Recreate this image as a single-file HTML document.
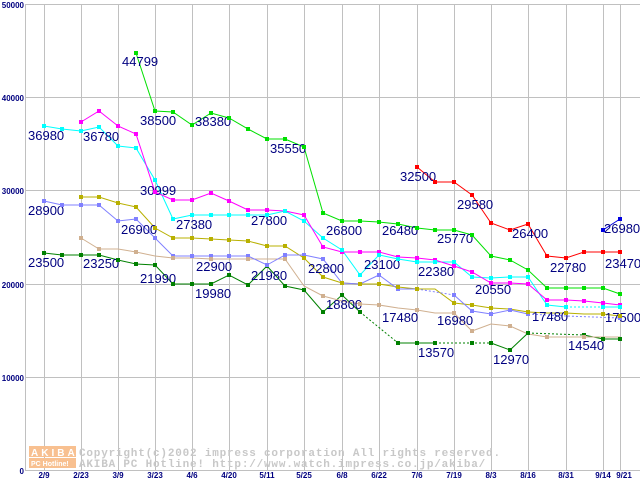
<!DOCTYPE html>
<html><head><meta charset="utf-8"><style>
html,body{margin:0;padding:0;background:#fff;}
svg{display:block;}
.lb{font-family:"Liberation Sans",sans-serif;font-size:13px;fill:#000080;}
.tk{font-family:"Liberation Sans",sans-serif;font-size:8px;font-weight:bold;fill:#000080;}
.cp{font-family:"Liberation Mono",monospace;font-size:11px;font-weight:bold;fill:#c8c8c8;letter-spacing:0.8px;}
</style></head><body>
<svg width="640" height="480" viewBox="0 0 640 480" xmlns="http://www.w3.org/2000/svg">
<rect width="640" height="480" fill="#fff"/>
<g stroke="#c0c0c0" stroke-width="1">
<line x1="25" y1="4.5" x2="640" y2="4.5"/><line x1="25" y1="97.5" x2="640" y2="97.5"/>
<line x1="25" y1="190.5" x2="640" y2="190.5"/><line x1="25" y1="284.5" x2="640" y2="284.5"/>
<line x1="25" y1="377.5" x2="640" y2="377.5"/><line x1="25" y1="470.5" x2="640" y2="470.5"/>
<line x1="25.5" y1="4" x2="25.5" y2="471"/>
<line x1="44.5" y1="4" x2="44.5" y2="471"/><line x1="81.5" y1="4" x2="81.5" y2="471"/>
<line x1="118.5" y1="4" x2="118.5" y2="471"/><line x1="155.5" y1="4" x2="155.5" y2="471"/>
<line x1="192.5" y1="4" x2="192.5" y2="471"/><line x1="229.5" y1="4" x2="229.5" y2="471"/>
<line x1="267.5" y1="4" x2="267.5" y2="471"/><line x1="304.5" y1="4" x2="304.5" y2="471"/>
<line x1="342.5" y1="4" x2="342.5" y2="471"/><line x1="379.5" y1="4" x2="379.5" y2="471"/>
<line x1="417.5" y1="4" x2="417.5" y2="471"/><line x1="454.5" y1="4" x2="454.5" y2="471"/>
<line x1="491.5" y1="4" x2="491.5" y2="471"/><line x1="528.5" y1="4" x2="528.5" y2="471"/>
<line x1="566.5" y1="4" x2="566.5" y2="471"/><line x1="603.5" y1="4" x2="603.5" y2="471"/>
<line x1="620.5" y1="4" x2="620.5" y2="471"/>
</g>
<g class="tk" text-anchor="end">
<text x="24" y="8">50000</text><text x="24" y="101">40000</text><text x="24" y="194">30000</text>
<text x="24" y="288">20000</text><text x="24" y="381">10000</text><text x="24" y="474">0</text>
</g>
<g class="tk" text-anchor="middle">
<text x="44" y="478">2/9</text><text x="81" y="478">2/23</text><text x="118" y="478">3/9</text>
<text x="155" y="478">3/23</text><text x="192" y="478">4/6</text><text x="229" y="478">4/20</text>
<text x="267" y="478">5/11</text><text x="304" y="478">5/25</text><text x="342" y="478">6/8</text>
<text x="379" y="478">6/22</text><text x="417" y="478">7/6</text><text x="454" y="478">7/19</text>
<text x="491" y="478">8/3</text><text x="528" y="478">8/16</text><text x="566" y="478">8/31</text>
<text x="603" y="478">9/14</text><text x="624" y="478">9/21</text>
</g>
<rect x="29" y="446" width="47" height="11" fill="#f8c090"/>
<rect x="29" y="458" width="47" height="10" fill="#f8c090"/>
<text x="31" y="456" font-family="Liberation Sans,sans-serif" font-size="10" font-weight="bold" fill="#fff" letter-spacing="3">AKIBA</text>
<text x="31" y="466" font-family="Liberation Sans,sans-serif" font-size="7" font-weight="bold" fill="#fff">PC Hotline!</text>
<text class="cp" x="79" y="456">Copyright(c)2002 impress corporation All rights reserved.</text>
<text class="cp" x="79" y="467">AKIBA PC Hotline!  http://www.watch.impress.co.jp/akiba/</text>
<g fill="none" stroke-width="1">
<polyline stroke="#008000" points="44,253 62,255 81,255 99,255 118,260 136,264 155,265 173,284 192,284 211,284 229,275 248,285 267,266 285,286 304,290 323,312 342,295 360,312"/>
<polyline stroke="#008000" stroke-dasharray="2,2" points="360,312 398,343"/>
<polyline stroke="#008000" points="398,343 435,343"/>
<polyline stroke="#008000" stroke-dasharray="2,2" points="435,343 491,343"/>
<polyline stroke="#008000" points="491,343 510,350 528,333"/>
<polyline stroke="#008000" stroke-dasharray="2,2" points="528,333 584,335"/>
<polyline stroke="#008000" points="584,335 603,339 620,339"/>
<polyline stroke="#d0b090" points="81,238 99,249 118,249 136,252 155,256 173,258 192,258 211,259 229,259 248,259 267,259 285,259 304,286 323,296 342,301 360,304 379,305 398,308 417,310 435,313 454,313 472,331 491,324 510,326 528,334 547,337 566,337 584,337 603,337 620,337"/>
<polyline stroke="#b8b000" points="81,197 99,197 118,203 136,207 155,228 173,238 192,238 211,239 229,240 248,241 267,246 285,246 304,258 323,277 342,283 360,284 379,284 398,287 417,289 435,289 454,303 472,305 491,308 510,309 528,312 547,313 566,313 584,314 603,314 620,316"/>
<polyline stroke="#8080ff" points="44,201 62,205 81,205 99,205 118,221 136,219 155,238 173,256 192,256 211,256 229,256 248,256 267,265 285,255 304,255 323,259 342,283 360,284 379,275 398,289 417,289"/>
<polyline stroke="#8080ff" stroke-dasharray="2,2" points="417,289 454,295"/>
<polyline stroke="#8080ff" points="454,295 472,311 491,314 510,310 528,314"/>
<polyline stroke="#8080ff" stroke-dasharray="2,2" points="528,314 566,316 620,318"/>
<polyline stroke="#00ffff" points="44,126 62,129 81,131 99,127 118,146 136,148 155,180 173,219 192,215 211,215 229,215 248,215 267,215 285,211 304,221 323,238 342,250 360,275 379,255 398,259 417,262 435,262 454,262 472,277 491,278 510,277 528,277 547,305 566,307"/>
<polyline stroke="#00ffff" stroke-dasharray="2,2" points="566,307 603,307"/>
<polyline stroke="#00ffff" points="603,307 620,307"/>
<polyline stroke="#ff00ff" points="81,122 99,111 118,126 136,134 155,192 173,200 192,200 211,193 229,201 248,210 267,210 285,211 304,215 323,247 342,252 360,252 379,252 398,257 417,258 435,260 454,266 472,272 491,283 510,283 528,284 547,300 566,300 584,301 603,303 620,305"/>
<polyline stroke="#00e000" points="136,53 155,111 173,112 192,125 211,113 229,118 248,129 267,139 285,139 304,147 323,213 342,221 360,221 379,222 398,224 417,228 435,230 454,230 472,235 491,256 510,260 528,270 547,288 566,288 584,288 603,288 620,294"/>
<polyline stroke="#ff0000" points="417,167 435,182 454,182 472,195 491,223 510,230 528,224 547,256 566,258 584,252 603,252 620,252"/>
<polyline stroke="#0000e0" points="603,230 620,219"/>
</g>
<text class="lb" x="122" y="66">44799</text>
<text class="lb" x="28" y="140">36980</text><text class="lb" x="83" y="141">36780</text>
<text class="lb" x="140" y="125">38500</text><text class="lb" x="195" y="126">38380</text>
<text class="lb" x="270" y="153">35550</text><text class="lb" x="140" y="195">30999</text>
<text class="lb" x="176" y="229">27380</text><text class="lb" x="251" y="225">27800</text>
<text class="lb" x="121" y="234">26900</text><text class="lb" x="28" y="215">28900</text>
<text class="lb" x="326" y="235">26800</text><text class="lb" x="382" y="235">26480</text>
<text class="lb" x="437" y="243">25770</text><text class="lb" x="400" y="181">32500</text>
<text class="lb" x="457" y="209">29580</text><text class="lb" x="512" y="238">26400</text>
<text class="lb" x="550" y="272">22780</text><text class="lb" x="604" y="233">26980</text>
<text class="lb" x="605" y="268">23470</text><text class="lb" x="28" y="267">23500</text>
<text class="lb" x="83" y="268">23250</text><text class="lb" x="140" y="283">21990</text>
<text class="lb" x="196" y="271">22900</text><text class="lb" x="251" y="280">21980</text>
<text class="lb" x="195" y="298">19980</text><text class="lb" x="308" y="273">22800</text>
<text class="lb" x="364" y="269">23100</text><text class="lb" x="418" y="276">22380</text>
<text class="lb" x="475" y="294">20550</text><text class="lb" x="326" y="309">18800</text>
<text class="lb" x="382" y="322">17480</text><text class="lb" x="437" y="325">16980</text>
<text class="lb" x="418" y="357">13570</text><text class="lb" x="493" y="364">12970</text>
<text class="lb" x="532" y="321">17480</text><text class="lb" x="568" y="350">14540</text>
<text class="lb" x="605" y="322">17500</text>
<g id="m">
<g fill="#008000"><rect x="42" y="251" width="4" height="4"/><rect x="60" y="253" width="4" height="4"/><rect x="79" y="253" width="4" height="4"/><rect x="97" y="253" width="4" height="4"/><rect x="116" y="258" width="4" height="4"/><rect x="134" y="262" width="4" height="4"/><rect x="153" y="263" width="4" height="4"/><rect x="171" y="282" width="4" height="4"/><rect x="190" y="282" width="4" height="4"/><rect x="209" y="282" width="4" height="4"/><rect x="227" y="273" width="4" height="4"/><rect x="246" y="283" width="4" height="4"/><rect x="265" y="264" width="4" height="4"/><rect x="283" y="284" width="4" height="4"/><rect x="302" y="288" width="4" height="4"/><rect x="321" y="310" width="4" height="4"/><rect x="340" y="293" width="4" height="4"/><rect x="358" y="310" width="4" height="4"/><rect x="396" y="341" width="4" height="4"/><rect x="415" y="341" width="4" height="4"/><rect x="433" y="341" width="4" height="4"/><rect x="470" y="341" width="4" height="4"/><rect x="489" y="341" width="4" height="4"/><rect x="508" y="348" width="4" height="4"/><rect x="526" y="331" width="4" height="4"/><rect x="582" y="333" width="4" height="4"/><rect x="601" y="337" width="4" height="4"/><rect x="618" y="337" width="4" height="4"/></g>
<g fill="#00e000"><rect x="134" y="51" width="4" height="4"/><rect x="153" y="109" width="4" height="4"/><rect x="171" y="110" width="4" height="4"/><rect x="190" y="123" width="4" height="4"/><rect x="209" y="111" width="4" height="4"/><rect x="227" y="116" width="4" height="4"/><rect x="246" y="127" width="4" height="4"/><rect x="265" y="137" width="4" height="4"/><rect x="283" y="137" width="4" height="4"/><rect x="302" y="145" width="4" height="4"/><rect x="321" y="211" width="4" height="4"/><rect x="340" y="219" width="4" height="4"/><rect x="358" y="219" width="4" height="4"/><rect x="377" y="220" width="4" height="4"/><rect x="396" y="222" width="4" height="4"/><rect x="415" y="226" width="4" height="4"/><rect x="433" y="228" width="4" height="4"/><rect x="452" y="228" width="4" height="4"/><rect x="470" y="233" width="4" height="4"/><rect x="489" y="254" width="4" height="4"/><rect x="508" y="258" width="4" height="4"/><rect x="526" y="268" width="4" height="4"/><rect x="545" y="286" width="4" height="4"/><rect x="564" y="286" width="4" height="4"/><rect x="582" y="286" width="4" height="4"/><rect x="601" y="286" width="4" height="4"/><rect x="618" y="292" width="4" height="4"/></g>
<g fill="#ff00ff"><rect x="79" y="120" width="4" height="4"/><rect x="97" y="109" width="4" height="4"/><rect x="116" y="124" width="4" height="4"/><rect x="134" y="132" width="4" height="4"/><rect x="153" y="190" width="4" height="4"/><rect x="171" y="198" width="4" height="4"/><rect x="190" y="198" width="4" height="4"/><rect x="209" y="191" width="4" height="4"/><rect x="227" y="199" width="4" height="4"/><rect x="246" y="208" width="4" height="4"/><rect x="265" y="208" width="4" height="4"/><rect x="283" y="209" width="4" height="4"/><rect x="302" y="213" width="4" height="4"/><rect x="321" y="245" width="4" height="4"/><rect x="340" y="250" width="4" height="4"/><rect x="358" y="250" width="4" height="4"/><rect x="377" y="250" width="4" height="4"/><rect x="396" y="255" width="4" height="4"/><rect x="415" y="256" width="4" height="4"/><rect x="433" y="258" width="4" height="4"/><rect x="452" y="264" width="4" height="4"/><rect x="470" y="270" width="4" height="4"/><rect x="489" y="281" width="4" height="4"/><rect x="508" y="281" width="4" height="4"/><rect x="526" y="282" width="4" height="4"/><rect x="545" y="298" width="4" height="4"/><rect x="564" y="298" width="4" height="4"/><rect x="582" y="299" width="4" height="4"/><rect x="601" y="301" width="4" height="4"/><rect x="618" y="303" width="4" height="4"/></g>
<g fill="#00ffff"><rect x="42" y="124" width="4" height="4"/><rect x="60" y="127" width="4" height="4"/><rect x="79" y="129" width="4" height="4"/><rect x="97" y="125" width="4" height="4"/><rect x="116" y="144" width="4" height="4"/><rect x="134" y="146" width="4" height="4"/><rect x="153" y="178" width="4" height="4"/><rect x="171" y="217" width="4" height="4"/><rect x="190" y="213" width="4" height="4"/><rect x="209" y="213" width="4" height="4"/><rect x="227" y="213" width="4" height="4"/><rect x="246" y="213" width="4" height="4"/><rect x="265" y="213" width="4" height="4"/><rect x="283" y="209" width="4" height="4"/><rect x="302" y="219" width="4" height="4"/><rect x="321" y="236" width="4" height="4"/><rect x="340" y="248" width="4" height="4"/><rect x="358" y="273" width="4" height="4"/><rect x="377" y="253" width="4" height="4"/><rect x="396" y="257" width="4" height="4"/><rect x="415" y="260" width="4" height="4"/><rect x="433" y="260" width="4" height="4"/><rect x="452" y="260" width="4" height="4"/><rect x="470" y="275" width="4" height="4"/><rect x="489" y="276" width="4" height="4"/><rect x="508" y="275" width="4" height="4"/><rect x="526" y="275" width="4" height="4"/><rect x="545" y="303" width="4" height="4"/><rect x="564" y="305" width="4" height="4"/><rect x="601" y="305" width="4" height="4"/><rect x="618" y="305" width="4" height="4"/></g>
<g fill="#8080ff"><rect x="42" y="199" width="4" height="4"/><rect x="60" y="203" width="4" height="4"/><rect x="79" y="203" width="4" height="4"/><rect x="97" y="203" width="4" height="4"/><rect x="116" y="219" width="4" height="4"/><rect x="134" y="217" width="4" height="4"/><rect x="153" y="236" width="4" height="4"/><rect x="171" y="254" width="4" height="4"/><rect x="190" y="254" width="4" height="4"/><rect x="209" y="254" width="4" height="4"/><rect x="227" y="254" width="4" height="4"/><rect x="246" y="254" width="4" height="4"/><rect x="265" y="263" width="4" height="4"/><rect x="283" y="253" width="4" height="4"/><rect x="302" y="253" width="4" height="4"/><rect x="321" y="257" width="4" height="4"/><rect x="340" y="281" width="4" height="4"/><rect x="358" y="282" width="4" height="4"/><rect x="377" y="273" width="4" height="4"/><rect x="396" y="287" width="4" height="4"/><rect x="415" y="287" width="4" height="4"/><rect x="452" y="293" width="4" height="4"/><rect x="470" y="309" width="4" height="4"/><rect x="489" y="312" width="4" height="4"/><rect x="508" y="308" width="4" height="4"/><rect x="526" y="312" width="4" height="4"/><rect x="618" y="316" width="4" height="4"/></g>
<g fill="#b8b000"><rect x="79" y="195" width="4" height="4"/><rect x="97" y="195" width="4" height="4"/><rect x="116" y="201" width="4" height="4"/><rect x="134" y="205" width="4" height="4"/><rect x="153" y="226" width="4" height="4"/><rect x="171" y="236" width="4" height="4"/><rect x="190" y="236" width="4" height="4"/><rect x="209" y="237" width="4" height="4"/><rect x="227" y="238" width="4" height="4"/><rect x="246" y="239" width="4" height="4"/><rect x="265" y="244" width="4" height="4"/><rect x="283" y="244" width="4" height="4"/><rect x="302" y="256" width="4" height="4"/><rect x="321" y="275" width="4" height="4"/><rect x="340" y="281" width="4" height="4"/><rect x="358" y="282" width="4" height="4"/><rect x="377" y="282" width="4" height="4"/><rect x="396" y="285" width="4" height="4"/><rect x="415" y="287" width="4" height="4"/><rect x="452" y="301" width="4" height="4"/><rect x="470" y="303" width="4" height="4"/><rect x="489" y="306" width="4" height="4"/><rect x="526" y="310" width="4" height="4"/><rect x="564" y="311" width="4" height="4"/><rect x="601" y="312" width="4" height="4"/><rect x="618" y="314" width="4" height="4"/></g>
<g fill="#d0b090"><rect x="79" y="236" width="4" height="4"/><rect x="97" y="247" width="4" height="4"/><rect x="134" y="250" width="4" height="4"/><rect x="171" y="256" width="4" height="4"/><rect x="209" y="257" width="4" height="4"/><rect x="246" y="257" width="4" height="4"/><rect x="283" y="257" width="4" height="4"/><rect x="321" y="294" width="4" height="4"/><rect x="358" y="302" width="4" height="4"/><rect x="377" y="303" width="4" height="4"/><rect x="415" y="308" width="4" height="4"/><rect x="452" y="311" width="4" height="4"/><rect x="470" y="329" width="4" height="4"/><rect x="508" y="324" width="4" height="4"/><rect x="545" y="335" width="4" height="4"/><rect x="582" y="335" width="4" height="4"/></g>
<g fill="#ff0000"><rect x="415" y="165" width="4" height="4"/><rect x="433" y="180" width="4" height="4"/><rect x="452" y="180" width="4" height="4"/><rect x="470" y="193" width="4" height="4"/><rect x="489" y="221" width="4" height="4"/><rect x="508" y="228" width="4" height="4"/><rect x="526" y="222" width="4" height="4"/><rect x="545" y="254" width="4" height="4"/><rect x="564" y="256" width="4" height="4"/><rect x="582" y="250" width="4" height="4"/><rect x="601" y="250" width="4" height="4"/><rect x="618" y="250" width="4" height="4"/></g>
<g fill="#0000e0"><rect x="601" y="228" width="4" height="4"/><rect x="618" y="217" width="4" height="4"/></g>
</g>
</svg>
</body></html>
